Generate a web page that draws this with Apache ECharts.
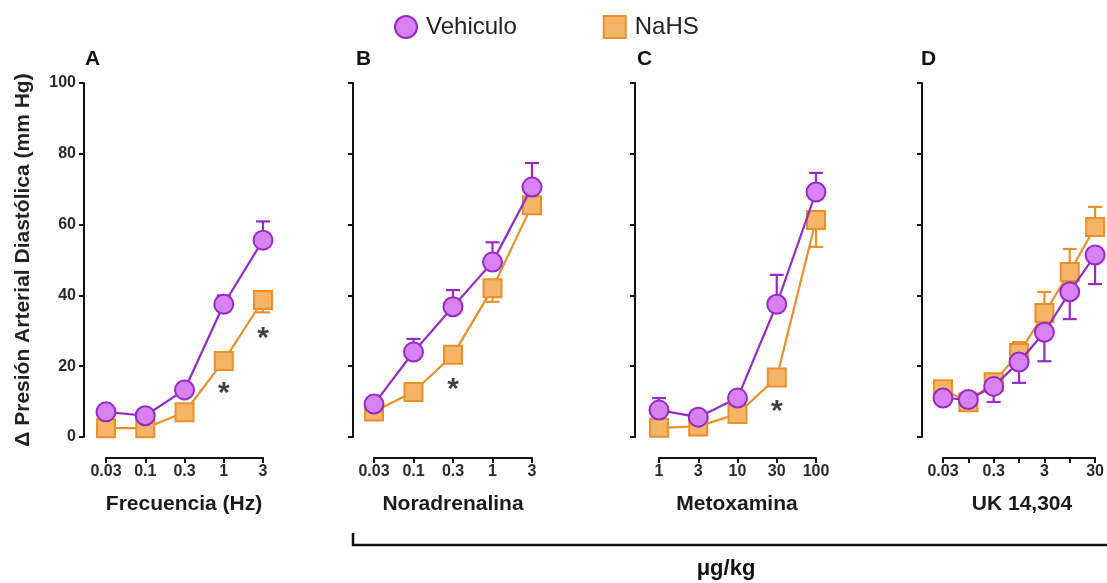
<!DOCTYPE html>
<html>
<head>
<meta charset="utf-8">
<script src="https://cdn.jsdelivr.net/npm/echarts@6/dist/echarts.min.js"></script>
<style>html,body{margin:0;padding:0;background:#fff}#c{width:1107px;height:583px}</style>
</head>
<body>
<div id="c"></div>
<script>
// ---- data ----
const catA = ['0.03', '0.1', '0.3', '1', '3'];
const catB = ['0.03', '0.1', '0.3', '1', '3'];
const catC = ['1', '3', '10', '30', '100'];
const catD = ['0.03', '0.1', '0.3', '1', '3', '10', '30'];
const yTicks = [0, 20, 40, 60, 80, 100];

const vehA = [7.1, 6.0, 13.3, 37.5, 55.6];
const vehErrA = [0, 0, 0, 2.5, 5.3];
const nahsA = [2.5, 2.5, 7.0, 21.5, 38.7];
const nahsErrA = [0, 0, 0, 0, -3.5];

const vehB = [9.3, 24.0, 36.8, 49.4, 70.6];
const vehErrB = [0, 3.7, 4.7, 5.6, 6.8];
const nahsB = [7.2, 12.7, 23.2, 42.0, 65.5];
const nahsErrB = [0, 0, 0, -3.8, 0];

const vehC = [7.6, 5.6, 11.0, 37.5, 69.2];
const vehErrC = [3.4, 0, 0, 8.3, 5.4];
const nahsC = [2.6, 3.0, 6.5, 16.8, 61.3];
const nahsErrC = [0, 0, 0, 0, -7.6];

const vehD = [11.0, 10.6, 14.3, 21.2, 29.6, 41.0, 51.4];
const vehErrD = [0, 0, -4.4, -5.9, -8.2, -7.7, -8.2];
const nahsD = [13.5, 9.8, 15.5, 23.7, 35.0, 46.6, 59.3];
const nahsErrD = [0, 0, 0, 3.1, 6.0, 6.5, 5.7];

const starsA = [[3, 14.5], [4, 30.0]];
const starsB = [[2, 15.5]];
const starsC = [[3, 9.5]];

const panelLetters = ['A', 'B', 'C', 'D'];
const panelTitles = ['Frecuencia (Hz)', 'Noradrenalina', 'Metoxamina', 'UK 14,304'];

// ---- styles ----
const VEH_LINE = '#952bc4', VEH_FILL = '#d882f2';
const NA_LINE = '#e8902c', NA_FILL = '#f6b467';
const FONT = 'Liberation Sans, Arial, sans-serif';

const panels = [
  {cats: catA, veh: vehA, vehErr: vehErrA, na: nahsA, naErr: nahsErrA, stars: starsA, left: 106, width: 157, yoff: 22, every: 1},
  {cats: catB, veh: vehB, vehErr: vehErrB, na: nahsB, naErr: nahsErrB, stars: starsB, left: 374, width: 158, yoff: 21, every: 1},
  {cats: catC, veh: vehC, vehErr: vehErrC, na: nahsC, naErr: nahsErrC, stars: starsC, left: 659, width: 157, yoff: 24, every: 1},
  {cats: catD, veh: vehD, vehErr: vehErrD, na: nahsD, naErr: nahsErrD, stars: [], left: 943, width: 157, yoff: 21, every: 2}
];

const grid = [], xAxis = [], yAxis = [], series = [];
panels.forEach((p, i) => {
  grid.push({left: p.left, top: 83, width: p.width, height: 354});
  const n = p.cats.length;
  xAxis.push({
    type: 'value', gridIndex: i, min: 0, max: n - 1, interval: 1, offset: 21, position: 'bottom',
    axisLine: {onZero: false, lineStyle: {color: '#111', width: 2}},
    axisTick: {length: 5, lineStyle: {color: '#111', width: 2}},
    splitLine: {show: false},
    axisLabel: {
      color: '#2a2a2a', fontSize: 16, fontWeight: 'bold', fontFamily: FONT, margin: 6,
      formatter: v => (v % p.every === 0 ? p.cats[v] : '')
    }
  });
  yAxis.push({
    type: 'value', gridIndex: i, min: 0, max: 100, interval: 20, offset: p.yoff, position: 'left',
    name: i === 0 ? 'Δ Presión Arterial Diastólica (mm Hg)' : '',
    nameLocation: 'middle', nameGap: 50,
    nameTextStyle: {color: '#222', fontSize: 21, fontWeight: 'bold', fontFamily: FONT},
    axisLine: {show: true, onZero: false, lineStyle: {color: '#111', width: 2}},
    axisTick: {show: true, length: 5, lineStyle: {color: '#111', width: 2}},
    splitLine: {show: false},
    axisLabel: {show: i === 0, color: '#2a2a2a', fontSize: 16, fontWeight: 'bold', fontFamily: FONT, margin: 8,
      formatter: v => (yTicks.indexOf(v) >= 0 ? String(v) : '')}
  });
  const errSeries = (vals, errs, color) => ({
    type: 'custom', xAxisIndex: i, yAxisIndex: i, silent: true, z: 1, clip: false,
    data: vals.map((v, k) => [k, v, v + errs[k]]).filter((d, k) => errs[k] !== 0),
    renderItem: (params, api) => {
      const a = api.coord([api.value(0), api.value(1)]);
      const b = api.coord([api.value(0), api.value(2)]);
      return {type: 'group', children: [
        {type: 'line', shape: {x1: a[0], y1: a[1], x2: b[0], y2: b[1]}, style: {stroke: color, lineWidth: 2.2}},
        {type: 'line', shape: {x1: b[0] - 7, y1: b[1], x2: b[0] + 7, y2: b[1]}, style: {stroke: color, lineWidth: 2.2}}
      ]};
    }
  });
  series.push(errSeries(p.na, p.naErr, NA_LINE));
  series.push({
    name: 'NaHS', type: 'line', xAxisIndex: i, yAxisIndex: i, clip: false, z: 2,
    data: p.na.map((v, k) => [k, v]),
    symbol: 'rect', symbolSize: 18,
    lineStyle: {color: NA_LINE, width: 2.2},
    itemStyle: {color: NA_FILL, borderColor: NA_LINE, borderWidth: 2}
  });
  series.push(errSeries(p.veh, p.vehErr, VEH_LINE));
  series.push({
    name: 'Vehiculo', type: 'line', xAxisIndex: i, yAxisIndex: i, clip: false, z: 3,
    data: p.veh.map((v, k) => [k, v]),
    symbol: 'circle', symbolSize: 19,
    lineStyle: {color: VEH_LINE, width: 2.2},
    itemStyle: {color: VEH_FILL, borderColor: VEH_LINE, borderWidth: 2}
  });
  if (p.stars.length) {
    series.push({
      type: 'scatter', xAxisIndex: i, yAxisIndex: i, silent: true, clip: false, z: 4,
      data: p.stars, symbolSize: 0,
      label: {show: true, position: 'inside', formatter: '*', fontSize: 30, fontWeight: 'bold', color: '#111', fontFamily: FONT, offset: [0, 8]}
    });
  }
});

const letterX = [85, 356, 637, 921];
const titleX = [184, 453, 737, 1022];
const graphic = [];
panelLetters.forEach((t, i) => graphic.push({type: 'text', left: letterX[i], top: 49,
  style: {text: t, fontSize: 21, fontWeight: 'bold', fontFamily: FONT, fill: '#111'}}));
panelTitles.forEach((t, i) => graphic.push({type: 'text', x: titleX[i], y: 504,
  style: {text: t, fontSize: 21, fontWeight: 'bold', fontFamily: FONT, fill: '#1a1a1a', align: 'center', verticalAlign: 'middle'}}));
graphic.push({type: 'polyline', shape: {points: [[353, 533], [353, 545], [1120, 545]]},
  style: {stroke: '#111', lineWidth: 2.5, fill: null}});
graphic.push({type: 'text', x: 726, y: 569,
  style: {text: 'μg/kg', fontSize: 22, fontWeight: 'bold', fontFamily: FONT, fill: '#111', align: 'center', verticalAlign: 'middle'}});

const chart = echarts.init(document.getElementById('c'), null, {renderer: 'canvas'});
chart.setOption({
  backgroundColor: '#fff',
  animation: false,
  legend: {
    left: 389, top: 10, itemGap: 86, itemWidth: 30, itemHeight: 22, symbolKeepAspect: true,
    data: [
      {name: 'Vehiculo', icon: 'circle'},
      {name: 'NaHS', icon: 'path://M0,0H10V10H0Z'}
    ],
    textStyle: {fontSize: 24, fontFamily: FONT, color: '#222'}
  },
  grid, xAxis, yAxis, series, graphic
});
</script>
</body>
</html>
